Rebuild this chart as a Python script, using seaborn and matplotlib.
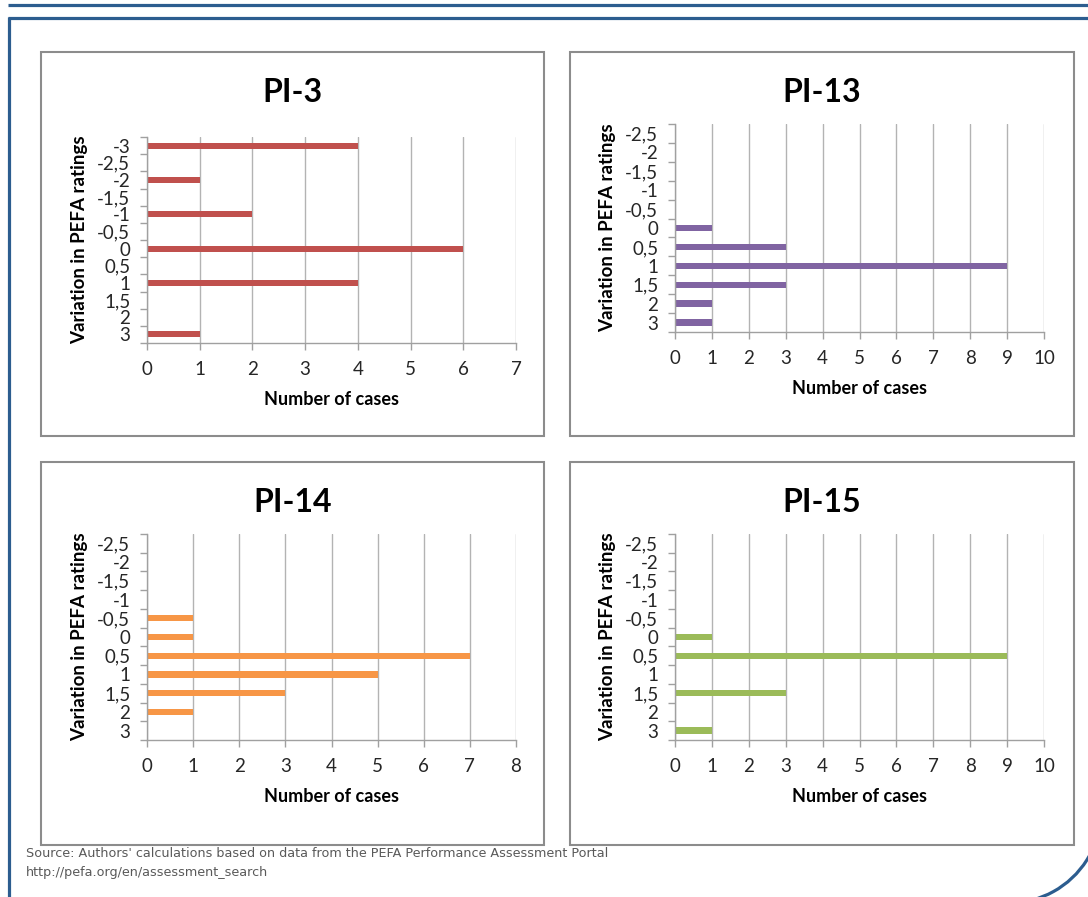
import matplotlib
matplotlib.use("Agg")
import matplotlib.pyplot as plt
from matplotlib.lines import Line2D
from matplotlib.patches import Rectangle, Arc
import numpy as np
import pandas as pd
import seaborn as sns

# ---- data -------------------------------------------------------------
pi3_cats = ['-3', '-2,5', '-2', '-1,5', '-1', '-0,5', '0', '0,5', '1', '1,5', '2', '3']
pi3_vals = [4, 0, 1, 0, 2, 0, 6, 0, 4, 0, 0, 1]

cats = ['-2,5', '-2', '-1,5', '-1', '-0,5', '0', '0,5', '1', '1,5', '2', '3']
pi13_vals = [0, 0, 0, 0, 0, 1, 3, 9, 3, 1, 1]
pi14_vals = [0, 0, 0, 0, 1, 1, 7, 5, 3, 1, 0]
pi15_vals = [0, 0, 0, 0, 0, 1, 9, 0, 3, 0, 1]

titles = ['PI-3', 'PI-13', 'PI-14', 'PI-15']
x_max = [7, 10, 8, 10]
colors = ['#C0504D', '#8064A2', '#F79646', '#9BBB59']

source_lines = [
    "Source: Authors' calculations based on data from the PEFA Performance Assessment Portal",
    "http://pefa.org/en/assessment_search",
]

# ---- style ------------------------------------------------------------
sns.set_theme(style='white')
plt.rcParams['font.family'] = ['Lato', 'DejaVu Sans']

W, H = 1088, 897
fig = plt.figure(figsize=(W / 100, H / 100), dpi=100)
fig.patch.set_facecolor('white')


def fx(px):
    return px / W


def fy(py):
    return 1 - py / H


GRID = '#B3B3B3'
AXIS = '#A0A0A0'
BLUE = '#2C5D8F'

# panel frames (left, top, right, bottom in pixels)
frames = [(41, 52, 544, 436), (570, 52, 1074, 436),
          (41, 462, 544, 845), (570, 462, 1074, 845)]
# plot areas (left, top, right, bottom in pixels)
areas = [(147, 137, 516, 343), (675, 124, 1044, 332),
         (147, 534, 516, 740), (675, 534, 1044, 740)]

panels = [(pi3_cats, pi3_vals), (cats, pi13_vals), (cats, pi14_vals), (cats, pi15_vals)]

for i, ((c, v), (l, t, r, b), (fl, ft, fr, fb)) in enumerate(zip(panels, areas, frames)):
    fig.add_artist(Rectangle((fx(fl), fy(fb)), fx(fr - fl), (fb - ft) / H,
                             transform=fig.transFigure, fill=False,
                             edgecolor='#8C8C8C', linewidth=1.5, zorder=0))

    ax = fig.add_axes([fx(l), fy(b), fx(r - l), (b - t) / H])
    df = pd.DataFrame({'rating': c, 'cases': v})
    sns.barplot(data=df, x='cases', y='rating', order=c, orient='h',
                color=colors[i], saturation=1, width=0.34, linewidth=0, ax=ax)

    n = len(c)
    ax.set_xlim(0, x_max[i])
    ax.set_ylim(n - 0.5, -0.5)
    ax.set_xticks(np.arange(0, x_max[i] + 1))
    ax.set_xticklabels([str(k) for k in range(x_max[i] + 1)])

    # category boundaries carry the tick marks, centres carry the labels
    ax.set_yticks(np.arange(n + 1) - 0.5)
    ax.set_yticklabels([])
    ax.set_yticks(np.arange(n), labels=c, minor=True)

    ax.grid(axis='x', color=GRID, linewidth=1)
    ax.grid(axis='y', visible=False)
    ax.set_axisbelow(True)
    for s in ('top', 'right'):
        ax.spines[s].set_visible(False)
    for s in ('left', 'bottom'):
        ax.spines[s].set_color(AXIS)
        ax.spines[s].set_linewidth(1)

    ax.tick_params(axis='x', which='major', length=5, width=1, color=AXIS,
                   direction='out', bottom=True, labelsize=13.5, labelcolor='#262626', pad=8)
    ax.tick_params(axis='y', which='major', length=5, width=1, color=AXIS,
                   direction='out', left=True)
    ax.tick_params(axis='y', which='minor', length=0, left=True,
                   labelsize=13.5, labelcolor='#262626', pad=12)

    ax.set_xlabel('Number of cases', fontsize=13, fontweight='bold', color='black', va='center')
    ax.xaxis.set_label_coords(0.5, -56 / (b - t))
    ax.set_ylabel('Variation in PEFA ratings', fontsize=13.5, fontweight='bold',
                  color='black', va='center')
    ax.yaxis.set_label_coords(-67 / (r - l), 0.5)

    fig.text(fx((fl + fr) / 2), fy(ft + 41), titles[i], ha='center', va='center',
             fontsize=23, fontweight='bold', color='black')

# blue page frame
fig.add_artist(Line2D([fx(8), fx(W)], [fy(5.5), fy(5.5)], color=BLUE, linewidth=2.3,
                      transform=fig.transFigure, solid_capstyle='butt'))
fig.add_artist(Line2D([fx(8), fx(W)], [fy(18), fy(18)], color=BLUE, linewidth=2.3,
                      transform=fig.transFigure, solid_capstyle='butt'))
fig.add_artist(Line2D([fx(9), fx(9)], [fy(17), fy(H)], color=BLUE, linewidth=2.3,
                      transform=fig.transFigure, solid_capstyle='butt'))
fig.add_artist(Arc((fx(1009), fy(811)), 2 * 92 / W, 2 * 92 / H, theta1=-90, theta2=30,
                   color=BLUE, linewidth=2.3, transform=fig.transFigure))

# source note
for k, line in enumerate(source_lines):
    fig.text(fx(26), fy(853 + 19 * k), line, ha='left', va='center', fontsize=9.2,
             color='#595959', family=['Liberation Sans Narrow', 'DejaVu Sans'])

fig.savefig('out.png', dpi=100, facecolor='white')
